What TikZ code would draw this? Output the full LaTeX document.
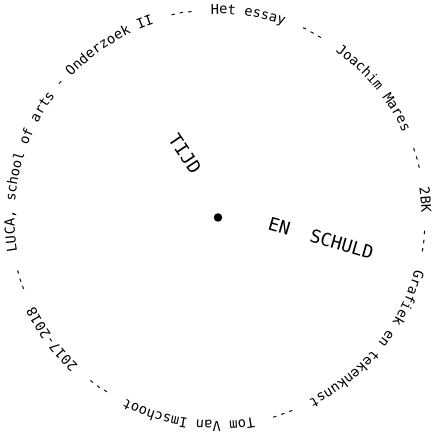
\documentclass[tikz,border=0pt]{standalone}
\usepackage{fontspec}
\setmonofont{DejaVu Sans Mono}
\usetikzlibrary{decorations.text,calc}
\newcommand{\ringfont}{\ttfamily\fontsize{13.7}{16}\selectfont}
\begin{document}
\begin{tikzpicture}[x=1pt,y=1pt,
  handtext/.style={font=\ttfamily\fontsize{18}{20}\selectfont, inner sep=0pt},
  hub/.style={circle, fill=black, inner sep=0pt, minimum size=8.5pt}]
\useasboundingbox (0,0) rectangle (436,436);
\node[hub] (C) at (218,218.5) {};
\coordinate (S) at ($(C)+(92:203.5)$);
\path[decorate, decoration={text along path, text align=left,
  text={|\ringfont|Het essay~~---~~Joachim Mares~~---~~2BK~~---~~Grafiek en tekenkunst~~---~~Tom Van Imschoot~~---~~2017-2018~~---~~LUCA, school of arts - Onderzoek II~~---}}]
  (S) arc[start angle=92, end angle=-268, radius=203.5];
\node[handtext, rotate=-56] (tijd) at (185,282) {TIJD};
\node[handtext, rotate=-16] (schuld) at (321,198) {EN~~SCHULD};
\end{tikzpicture}
\end{document}
